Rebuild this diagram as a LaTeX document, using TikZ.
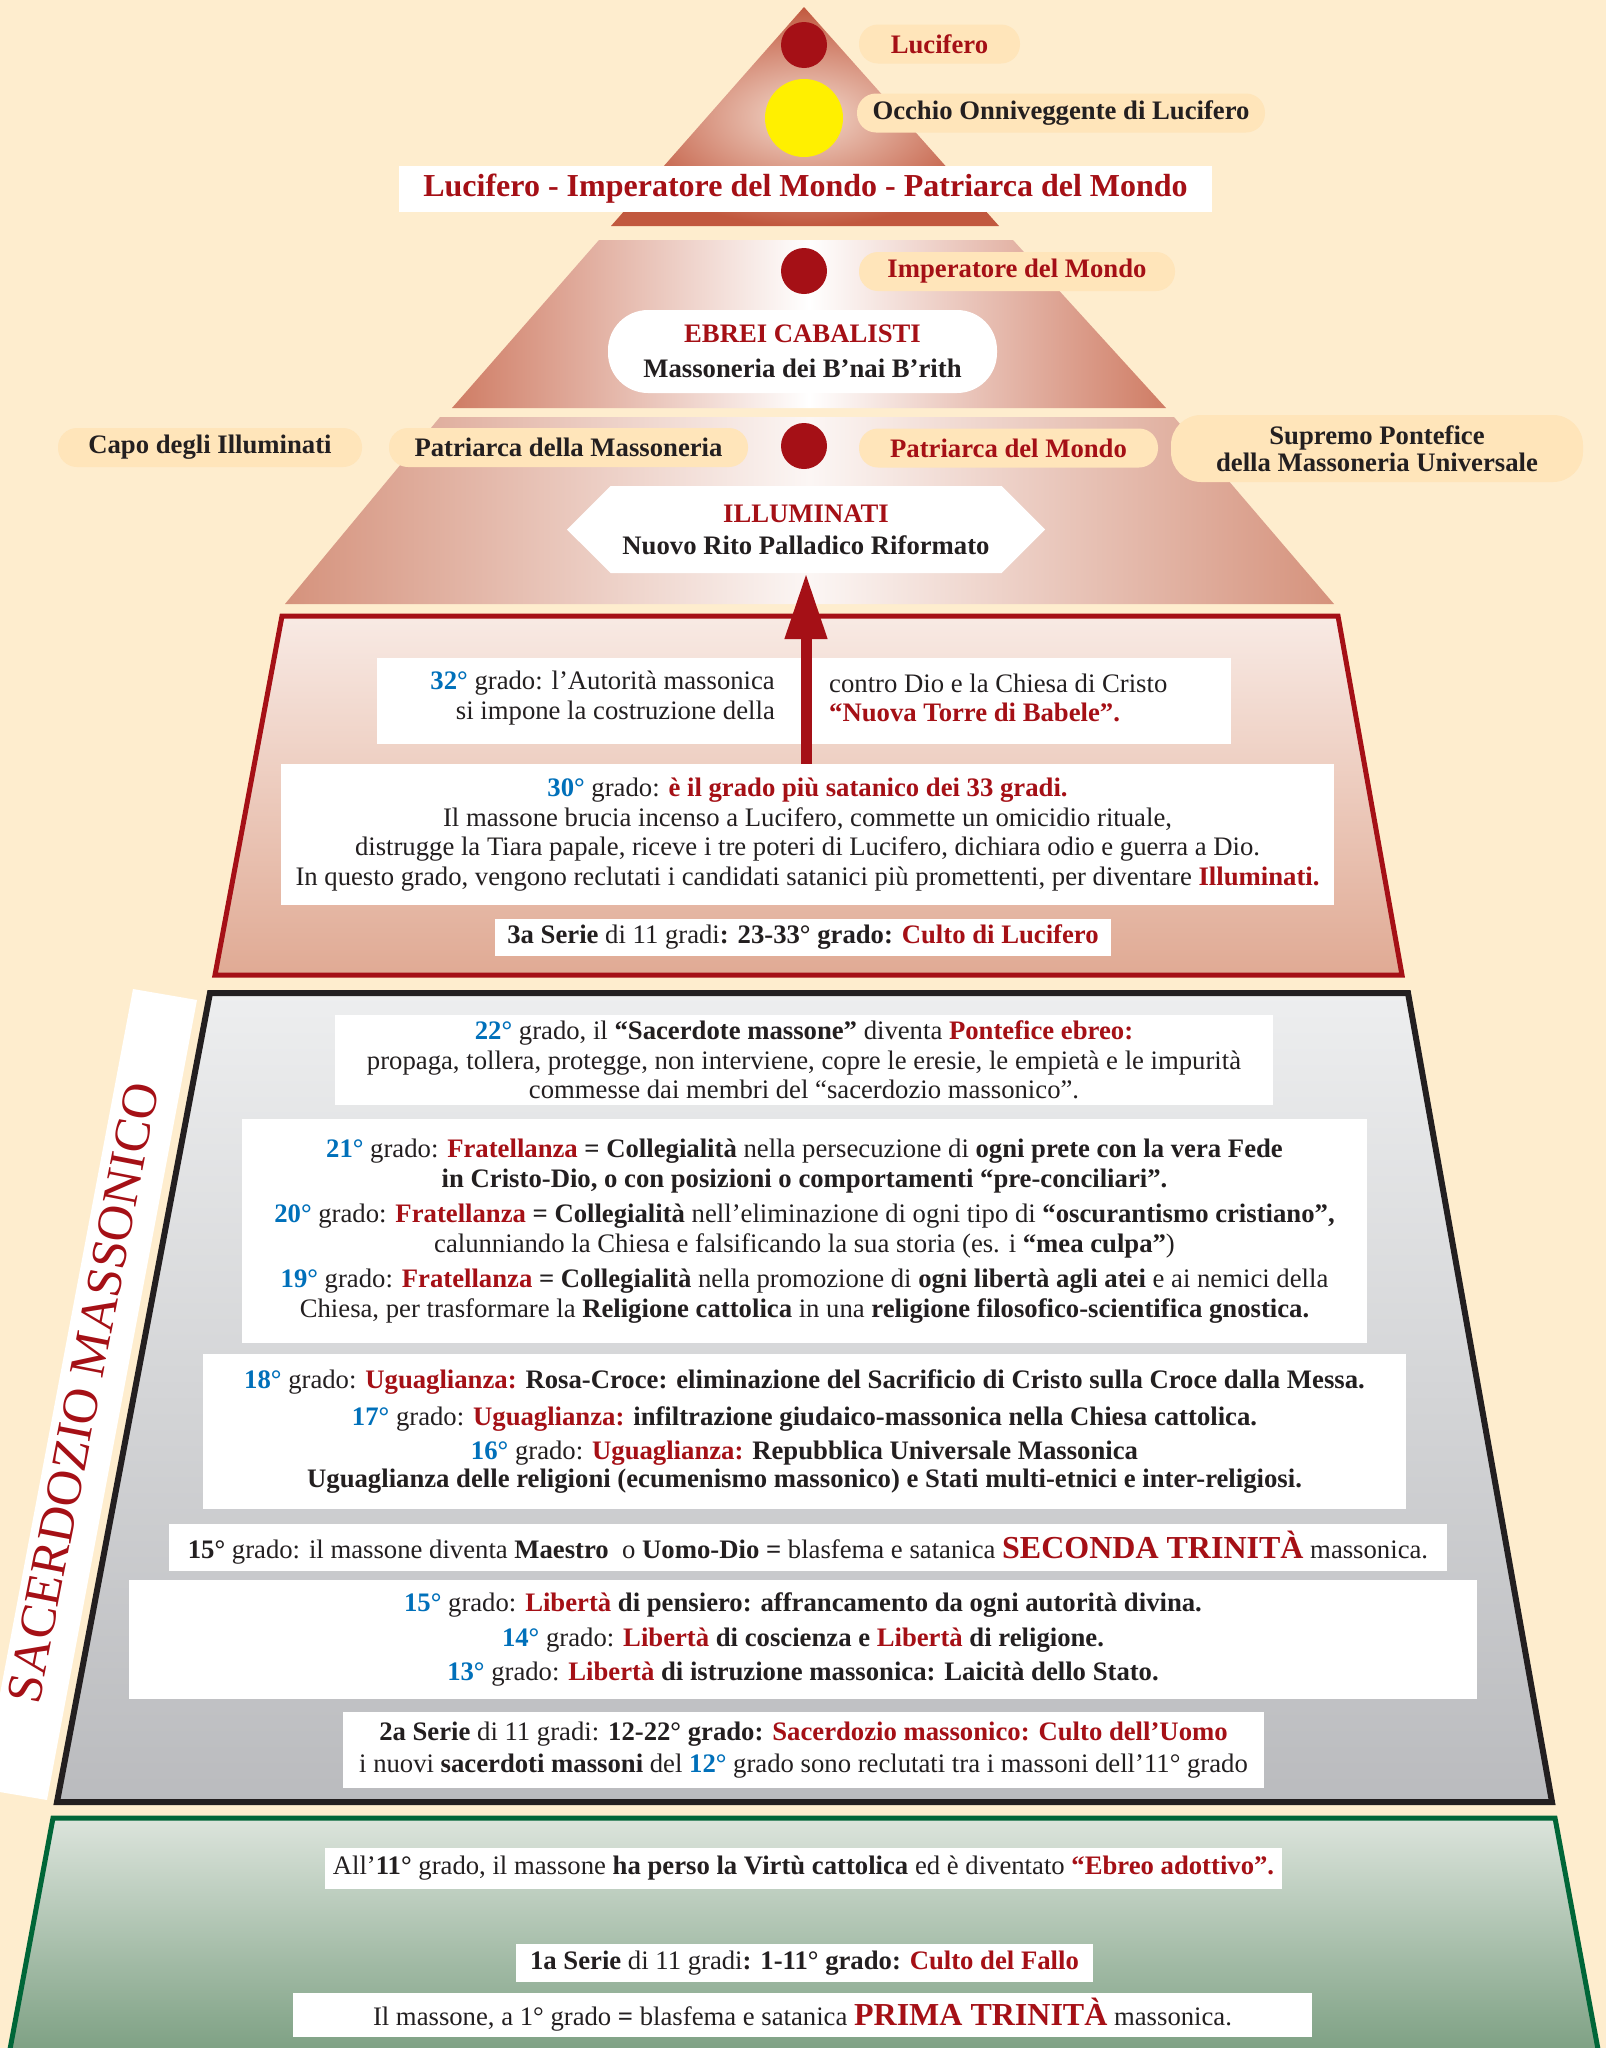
\documentclass[tikz,border=0pt]{standalone}
\usepackage{fontspec}
\setmainfont{Liberation Serif}
\usetikzlibrary{arrows.meta,shapes.symbols}

\definecolor{bgcream}{RGB}{254,237,206}
\definecolor{lblfill}{RGB}{255,229,186}
\definecolor{darkred}{RGB}{165,16,22}
\definecolor{degblue}{RGB}{0,112,186}
\definecolor{txtblack}{RGB}{35,31,32}
\definecolor{sunyellow}{RGB}{255,240,0}
\definecolor{topedge}{RGB}{193,88,62}
\definecolor{topmid}{RGB}{243,218,205}
\definecolor{midedge}{RGB}{207,124,100}
\definecolor{lowedge}{RGB}{213,146,124}
\definecolor{redtop}{RGB}{248,234,228}
\definecolor{redbot}{RGB}{224,170,148}
\definecolor{greytop}{RGB}{237,238,239}
\definecolor{greybot}{RGB}{186,187,190}
\definecolor{greentop}{RGB}{220,228,220}
\definecolor{greenbot}{RGB}{122,158,128}
\definecolor{greenline}{RGB}{0,102,56}

\newcommand{\gdeg}[1]{\textcolor{degblue}{\textbf{#1°}}}
\newcommand{\redbf}[1]{\textcolor{darkred}{\textbf{#1}}}

\begin{document}
\begin{tikzpicture}[x=1pt, y=-1pt,
    every node/.style={text=txtblack},
    lbl/.style={fill=lblfill, rounded corners=19pt, inner sep=0pt, minimum height=39pt,
        align=center, font=\fontsize{26.7}{26.5}\selectfont\bfseries},
    reddot/.style={circle, fill=darkred, inner sep=0pt, minimum size=46pt},
    wbox/.style={fill=white, inner sep=0pt, align=center, font=\fontsize{26.7}{29.5}\selectfont},
    hexa/.style={signal, signal to=west and east, signal pointer angle=90, fill=white,
        inner sep=0pt, align=center, font=\fontsize{26.7}{32}\selectfont\bfseries}]

    \fill[bgcream] (0,0) rectangle (1606,2048);
    \useasboundingbox (0,0) rectangle (1606,2048);

    % Top of the pyramid
    \coordinate (Apex) at (804,7);
    \shade[inner color=topmid, outer color=topedge] (Apex) -- (999,226) -- (611,226) -- cycle;
    \shade[left color=midedge, right color=midedge, middle color=white]
        (599,240) -- (1013,240) -- (1166,408) -- (452,408) -- cycle;
    \shade[left color=lowedge, right color=lowedge, middle color=white!92!lowedge]
        (440,417) -- (1174,417) -- (1334,604) -- (285,604) -- cycle;

    \node[reddot] (dotA) at (804,45) {};
    \node[circle, fill=sunyellow, inner sep=0pt, minimum size=78pt] (eye) at (804,118) {};
    \node[lbl, minimum width=161pt, text=darkred] (lucifero) at (939.5,44) {Lucifero};
    \node[lbl, minimum width=408pt] (occhio) at (1061,113) {Occhio Onniveggente di Lucifero};
    \node[fill=white, inner sep=0pt, minimum width=813pt, minimum height=46pt,
        text=darkred, font=\fontsize{32}{32}\selectfont\bfseries] (banner) at (805.5,189)
        {Lucifero - Imperatore del Mondo - Patriarca del Mondo};

    \node[reddot] (dotB) at (804,271) {};
    \node[lbl, minimum width=316pt, text=darkred] (imperatore) at (1017,271.5) {Imperatore del Mondo};
    \node[fill=white, rounded corners=40pt, inner sep=0pt, minimum width=389pt, minimum height=83pt,
        align=center, font=\fontsize{26.7}{35}\selectfont\bfseries] (ebrei) at (802.5,351.5)
        {\textcolor{darkred}{EBREI CABALISTI}\\Massoneria dei B’nai B’rith};

    \node[reddot] (dotC) at (804,446) {};
    \node[lbl, minimum width=304pt] (capo) at (210,447.5) {Capo degli Illuminati};
    \node[lbl, minimum width=359pt] (patmass) at (568.5,447.5) {Patriarca della Massoneria};
    \node[lbl, minimum width=299pt, text=darkred] (patmondo) at (1008.5,448) {Patriarca del Mondo};
    \node[lbl, minimum width=412pt, minimum height=67pt, rounded corners=30pt] (supremo) at (1377,448.5)
        {Supremo Pontefice\\della Massoneria Universale};
    \node[hexa, minimum width=478pt, minimum height=87pt] (illum) at (806,529.5)
        {\textcolor{darkred}{ILLUMINATI}\\Nuovo Rito Palladico Riformato};

    % 3a Serie
    \path[draw=darkred, line width=5pt, top color=redtop, bottom color=redbot]
        (282,616) -- (1338,616) -- (1402,975) -- (215,975) -- cycle;
    \node[wbox, minimum width=854pt, minimum height=86pt] (n32) at (804,701) {};
    \node[wbox, anchor=east, align=right] (n32l) at (775,698)
        {\gdeg{32} grado: l’Autorità massonica\\si impone la costruzione della};
    \node[wbox, anchor=west, align=left] (n32r) at (829,698)
        {contro Dio e la Chiesa di Cristo\\\redbf{“Nuova Torre di Babele”.}};
    \node[wbox, minimum width=1053pt, minimum height=141pt] (n30) at (807.5,834.5)
        {\gdeg{30} grado: \redbf{è il grado più satanico dei 33 gradi.}\\
        Il massone brucia incenso a Lucifero, commette un omicidio rituale,\\
        distrugge la Tiara papale, riceve i tre poteri di Lucifero, dichiara odio e guerra a Dio.\\
        In questo grado, vengono reclutati i candidati satanici più promettenti, per diventare \redbf{Illuminati.}};
    \node[wbox, minimum width=616pt, minimum height=37pt] (n3a) at (803,937.5)
        {\textbf{3a Serie} di 11 gradi\textbf{: 23-33° grado:} \redbf{Culto di Lucifero}};
    \draw[darkred, line width=11pt, -{Triangle[width=40pt,length=66pt]}]
        (illum.south |- n30.north) -- (illum.south);

    % 2a Serie
    \fill[white] (133,989) -- (197,1000) -- (47,1800) -- (-18,1789) -- cycle;
    \node[rotate=79, text=darkred, font=\fontsize{50.5}{50.5}\selectfont] (sacer) at (83,1393)
        {SACERDOZIO MASSONICO};
    \path[draw=txtblack, line width=6pt, top color=greytop, bottom color=greybot]
        (210,993) -- (1408,993) -- (1552,1802) -- (57,1802) -- cycle;
    \node[wbox, minimum width=938pt, minimum height=90pt] (n22) at (804,1060)
        {\gdeg{22} grado, il \textbf{“Sacerdote massone”} diventa \redbf{Pontefice ebreo:}\\
        propaga, tollera, protegge, non interviene, copre le eresie, le empietà e le impurità\\
        commesse dai membri del “sacerdozio massonico”.};
    \node[wbox, minimum width=1125pt, minimum height=224pt] (n21) at (804.5,1231)
        {\gdeg{21} grado: \redbf{Fratellanza} \textbf{= Collegialità} nella persecuzione di \textbf{ogni prete con la vera Fede}\\
        \textbf{in Cristo-Dio, o con posizioni o comportamenti “pre-conciliari”.}\\[6pt]
        \gdeg{20} grado: \redbf{Fratellanza} \textbf{= Collegialità} nell’eliminazione di ogni tipo di \textbf{“oscurantismo cristiano”,}\\
        calunniando la Chiesa e falsificando la sua storia (es. i \textbf{“mea culpa”})\\[6pt]
        \gdeg{19} grado: \redbf{Fratellanza} \textbf{= Collegialità} nella promozione di \textbf{ogni libertà agli atei} e ai nemici della\\
        Chiesa, per trasformare la \textbf{Religione cattolica} in una \textbf{religione filosofico-scientifica gnostica.}};
    \node[wbox, minimum width=1203pt, minimum height=155pt] (n18) at (804.5,1431.5)
        {\gdeg{18} grado: \redbf{Uguaglianza:} \textbf{Rosa-Croce: eliminazione del Sacrificio di Cristo sulla Croce dalla Messa.}\\[7pt]
        \gdeg{17} grado: \redbf{Uguaglianza:} \textbf{infiltrazione giudaico-massonica nella Chiesa cattolica.}\\[5pt]
        \gdeg{16} grado: \redbf{Uguaglianza:} \textbf{Repubblica Universale Massonica}\\[-2pt]
        \textbf{Uguaglianza delle religioni (ecumenismo massonico) e Stati multi-etnici e inter-religiosi.}};
    \node[wbox, minimum width=1278pt, minimum height=47pt] (n15m) at (808,1547.5)
        {\textbf{15°} grado: il massone diventa \textbf{Maestro}\ \ o \textbf{Uomo-Dio =} blasfema e satanica
        {\fontsize{32}{32}\selectfont\redbf{SECONDA TRINITÀ}} massonica.};
    \node[wbox, minimum width=1348pt, minimum height=119pt] (n15) at (803,1639.5)
        {\gdeg{15} grado: \redbf{Libertà} \textbf{di pensiero: affrancamento da ogni autorità divina.}\\[5pt]
        \gdeg{14} grado: \redbf{Libertà} \textbf{di coscienza e} \redbf{Libertà} \textbf{di religione.}\\[5pt]
        \gdeg{13} grado: \redbf{Libertà} \textbf{di istruzione massonica: Laicità dello Stato.}};
    \node[wbox, minimum width=921pt, minimum height=76pt] (n2a) at (803.5,1750)
        {\textbf{2a Serie} di 11 gradi: \textbf{12-22° grado:} \redbf{Sacerdozio massonico: Culto dell’Uomo}\\[3pt]
        i nuovi \textbf{sacerdoti massoni} del \gdeg{12} grado sono reclutati tra i massoni dell’11° grado};

    % 1a Serie
    \path[draw=greenline, line width=5pt, top color=greentop, bottom color=greenbot]
        (53,1818) -- (1555,1818) -- (1600,2060) -- (8,2060) -- cycle;
    \node[wbox, minimum width=957pt, minimum height=41pt] (n11) at (803.5,1868.5)
        {All’\textbf{11°} grado, il massone \textbf{ha perso la Virtù cattolica} ed è diventato \redbf{“Ebreo adottivo”.}};
    \node[wbox, minimum width=577pt, minimum height=38pt] (n1a) at (804.5,1963)
        {\textbf{1a Serie} di 11 gradi\textbf{: 1-11° grado:} \redbf{Culto del Fallo}};
    \node[wbox, minimum width=1019pt, minimum height=44pt] (n1t) at (802.5,2015)
        {Il massone, a 1° grado \textbf{=} blasfema e satanica {\fontsize{32}{32}\selectfont\redbf{PRIMA TRINITÀ}} massonica.};

\end{tikzpicture}
\end{document}
